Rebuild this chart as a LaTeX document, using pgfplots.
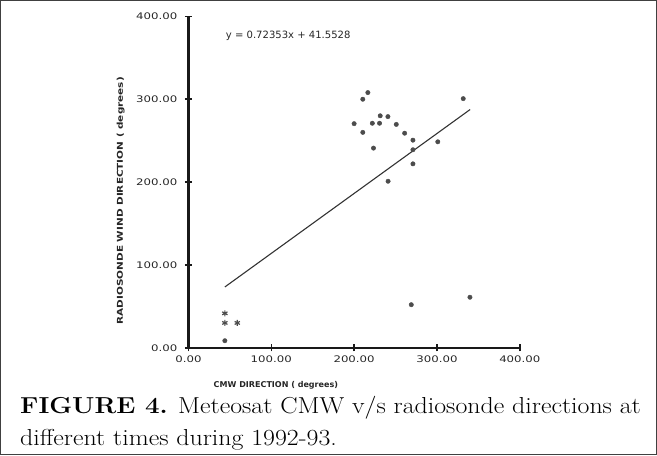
\documentclass[border=0pt]{standalone}
\usepackage{pgfplots}
\pgfplotsset{compat=1.18}
\usepackage{fontspec}
\newfontfamily\tickfont{DejaVu Sans}
\newfontfamily\labfont{DejaVu Sans}
\definecolor{ptc}{gray}{0.30}
\definecolor{axc}{gray}{0.10}
\begin{document}
\begin{tikzpicture}
\draw[line width=1.2pt, black!75] (2pt,1pt) rectangle (655pt,453pt);
\begin{axis}[
  name=ax,
  at={(189pt,107.3pt)}, anchor=south west,
  scale only axis, width=330pt, height=330pt,
  xmin=0, xmax=400, ymin=0, ymax=400,
  axis lines=left,
  axis line style={-, line width=2.5pt, axc},
  xtick={0,100,200,300,400}, ytick={0,100,200,300,400},
  tick align=center, major tick length=7pt,
  every tick/.style={line width=1.5pt, axc},
  /pgf/number format/assume math mode=true,
  xticklabel={\scalebox{1.3}[1]{\pgfmathprintnumber[fixed,fixed zerofill,precision=2]{\tick}}},
  yticklabel={\scalebox{1.3}[1]{\pgfmathprintnumber[fixed,fixed zerofill,precision=2]{\tick}}},
  ticklabel style={font=\tickfont\fontsize{9}{10}\selectfont, text=black!85},
  yticklabel style={xshift=-4pt},
  xticklabel style={yshift=-1pt},
  xlabel={CMW DIRECTION ( degrees)},
  ylabel={\scalebox{1.3}[1]{RADIOSONDE WIND DIRECTION ( degrees)}},
  xlabel style={at={(rel axis cs:0.264,-0.113)}, anchor=center, font=\labfont\bfseries\fontsize{8}{9}\selectfont, text=black!85},
  ylabel style={at={(rel axis cs:-0.204,0.444)}, anchor=center, font=\labfont\bfseries\fontsize{8}{9}\selectfont, text=black!85},
  clip=false,
]
\addplot[only marks, mark=*, mark size=2.2pt, mark options={fill=ptc, draw=ptc}] coordinates {
 (216.6,308) (210.5,300) (200,270.5) (210.5,260) (222,271) (230.7,271)
 (231.5,280) (240.8,279) (250.9,269.6) (261,259) (271,250.6) (271,239)
 (223.4,241) (271,222) (241,201) (301,248.6) (331.7,300.7) (339.8,61)
 (269,52) (44,8.5)
};
\addplot[only marks, mark=asterisk, mark size=3pt, mark options={draw=ptc, line width=1.2pt}] coordinates {
 (44,41.6) (44,30) (59,30)
};
\addplot[no marks, line width=1.1pt, black!80] coordinates {(44,73.39) (340,287.55)};
\node[anchor=west, font=\labfont\fontsize{10}{11}\selectfont, text=black!85] at (axis cs:41,376) {y = 0.72353x + 41.5528};
\end{axis}
\node[anchor=base west, font=\fontsize{23}{26}\selectfont] at (18pt,42pt) {\scalebox{1.12}[1]{\textbf{FIGURE 4.} Meteosat CMW v/s radiosonde directions at}};
\node[anchor=base west, font=\fontsize{23}{26}\selectfont] at (18pt,10pt) {\scalebox{1.12}[1]{different times during 1992-93.}};
\end{tikzpicture}
\end{document}
